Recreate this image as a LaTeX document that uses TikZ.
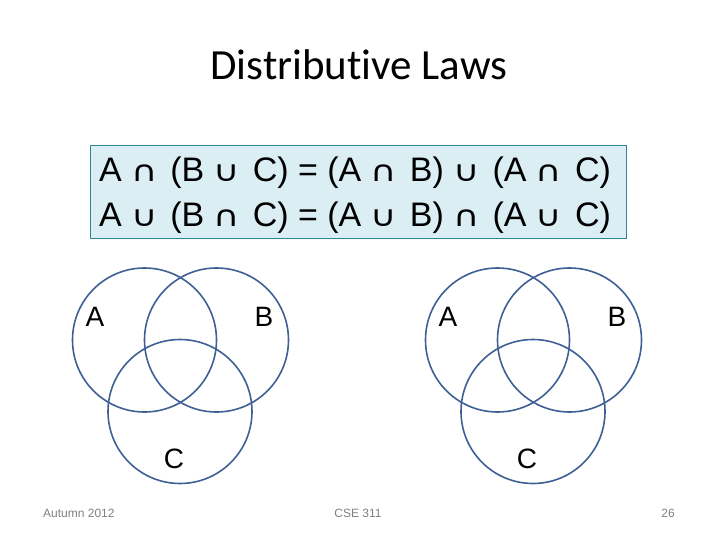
\documentclass[tikz,border=0pt]{standalone}
\usepackage{fontspec}
\setmainfont{Liberation Sans}
\newfontfamily\titlefont[Ligatures=NoCommon]{Carlito}
\newfontfamily\symfont{DejaVu Sans}
\newcommand{\ca}{{\symfont\fontsize{36}{36}\selectfont\scalebox{1}[0.8]{∩}}\hspace{3.3pt}}
\newcommand{\cu}{{\symfont\fontsize{36}{36}\selectfont\scalebox{1}[0.8]{∪}}\hspace{3.3pt}}
\definecolor{venn}{RGB}{62,96,148}
\definecolor{boxfill}{RGB}{219,238,244}
\definecolor{boxline}{RGB}{49,132,155}
\definecolor{foot}{RGB}{128,128,128}
\begin{document}
\begin{tikzpicture}[x=1pt,y=-1pt,
  vcirc/.style={draw=venn,line width=1.6pt,circle,minimum size=144pt,inner sep=0pt},
  vlabel/.style={inner sep=0pt,font=\fontsize{28}{28}\selectfont},
  formula/.style={inner sep=0pt,anchor=base,font=\fontsize{34}{34}\selectfont},
  footer/.style={inner sep=0pt,anchor=base,text=foot,font=\fontsize{12}{12}\selectfont}]
\useasboundingbox (0,0) rectangle (720,540);
\node[inner sep=0pt,anchor=base,font=\titlefont\fontsize{43}{43}\selectfont] (title) at (359,80) {Distributive Laws};
\node[draw=boxline,fill=boxfill,line width=0.8pt,minimum width=536pt,minimum height=93pt,inner sep=0pt] (box) at (358,191.5) {};
\node[formula] (f1) at (355,182) {A \ca{} (B \cu{} C) = (A \ca{} B) \cu{} (A \ca{} C)};
\node[formula] (f2) at (355,226) {A \cu{} (B \ca{} C) = (A \cu{} B) \ca{} (A \cu{} C)};
% left Venn
\node[vcirc] (A1) at (144.5,340) {};
\node[vcirc] (B1) at (216.5,340) {};
\node[vcirc] (C1) at (180,411.5) {};
\node[vlabel] (la1) at (95,317) {A};
\node[vlabel] (lb1) at (264,317) {B};
\node[vlabel] (lc1) at (174,459) {C};
% right Venn
\node[vcirc] (A2) at (497.5,340) {};
\node[vcirc] (B2) at (569.5,340) {};
\node[vcirc] (C2) at (533,411.5) {};
\node[vlabel] (la2) at (448,317) {A};
\node[vlabel] (lb2) at (617,317) {B};
\node[vlabel] (lc2) at (527,459) {C};
% footer
\node[footer,anchor=base west] (fl) at (43,517) {Autumn 2012};
\node[footer] (fc) at (358,517) {CSE 311};
\node[footer,anchor=base east] (fr) at (675,517) {26};
\end{tikzpicture}
\end{document}
